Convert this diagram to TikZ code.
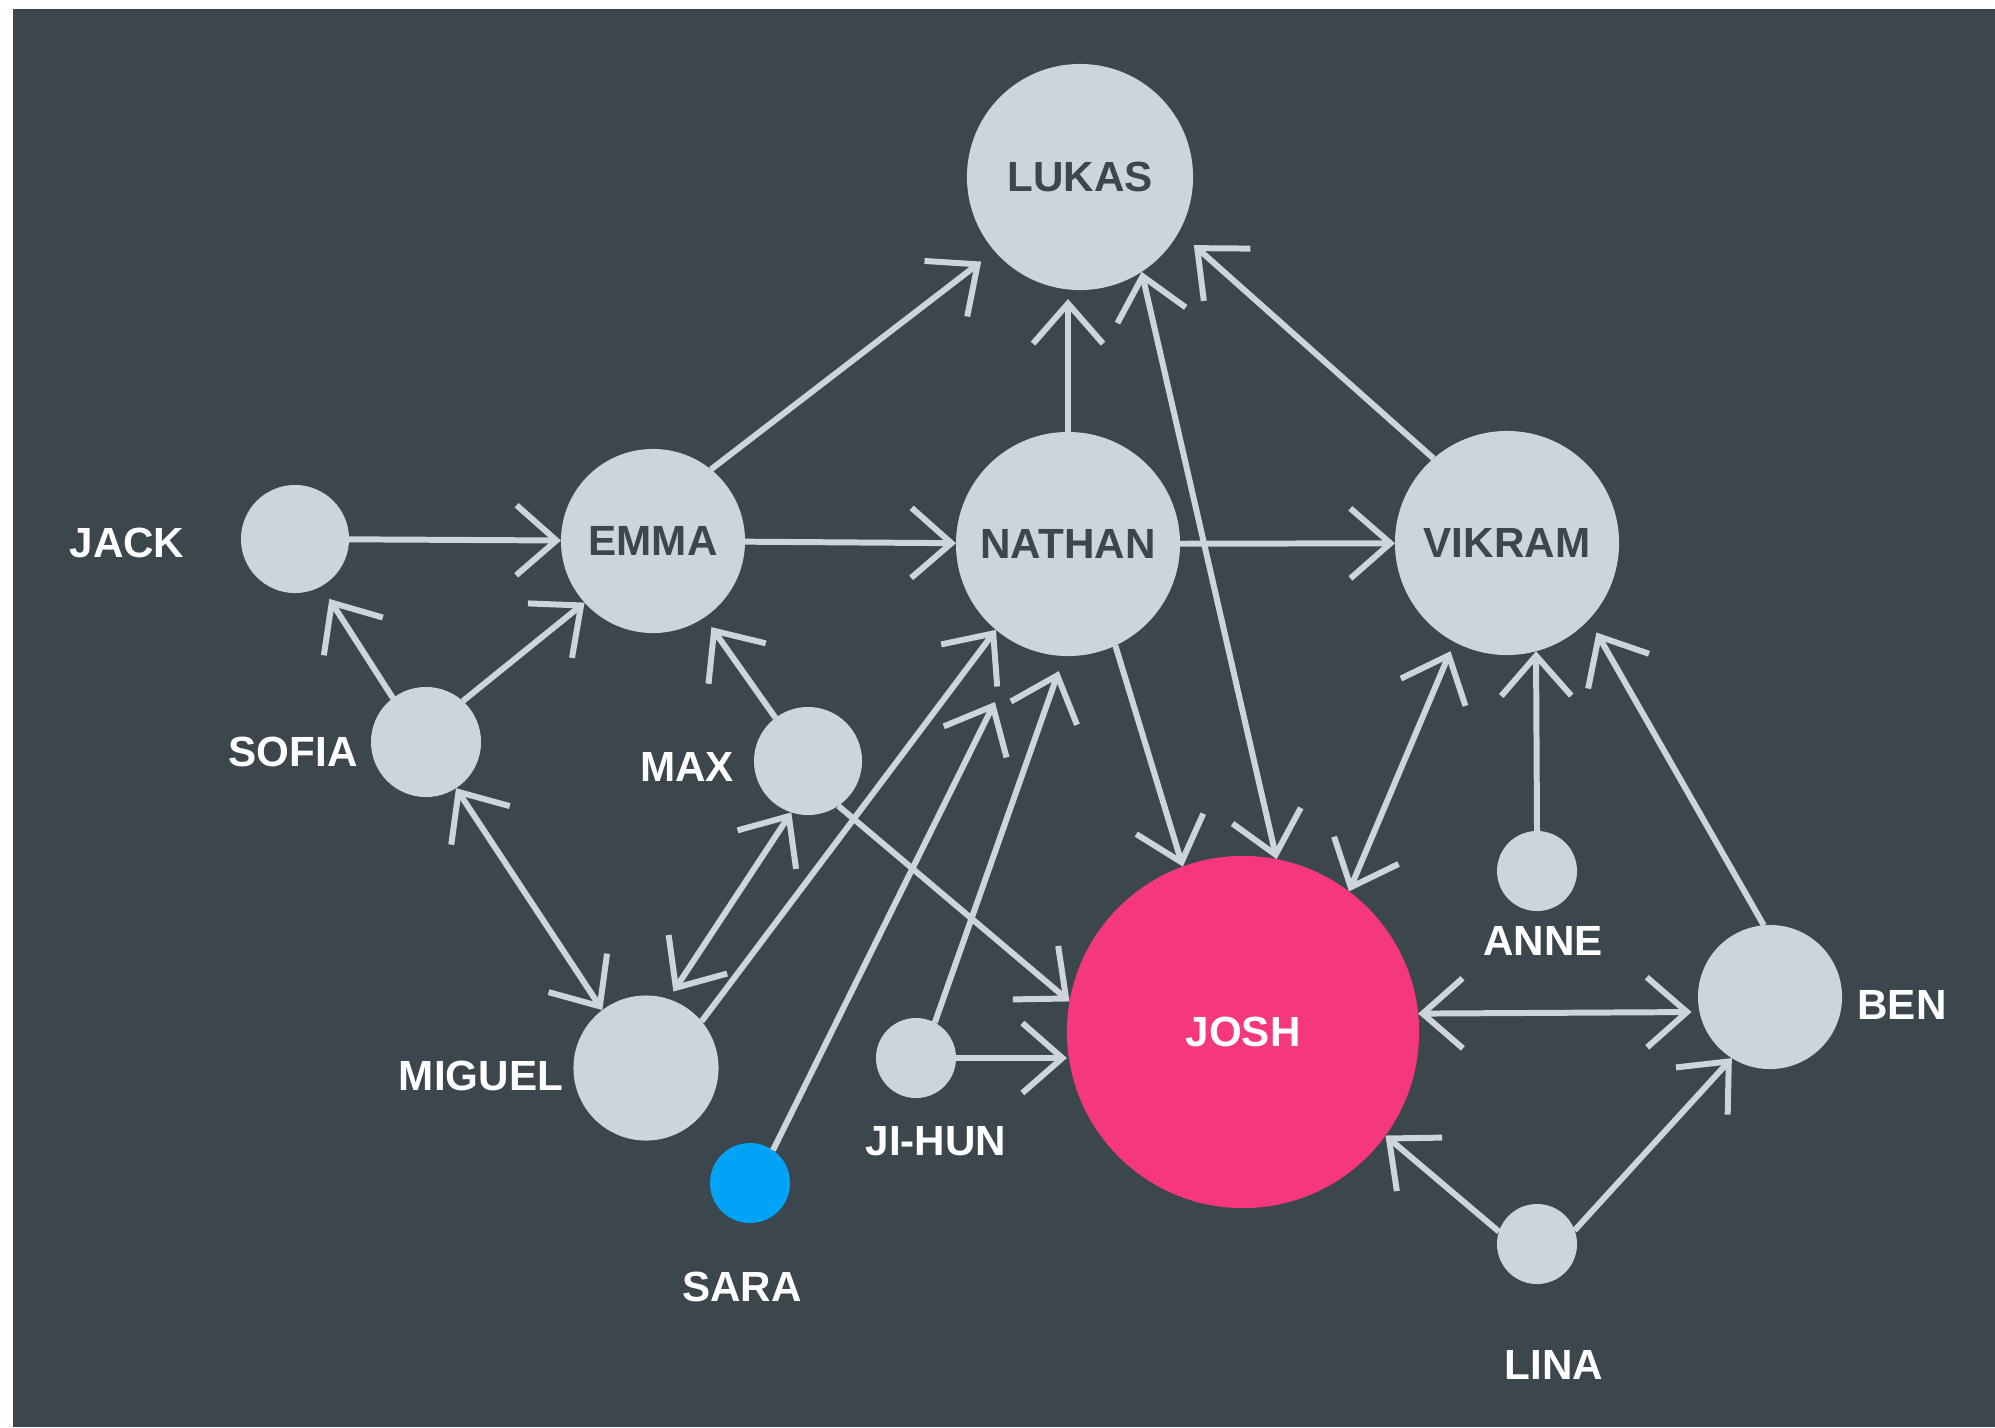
\documentclass[tikz,border=0pt]{standalone}
\usepackage{fontspec}
\setmainfont{Liberation Sans}
\usetikzlibrary{arrows.meta}
\definecolor{slate}{HTML}{3C464D}
\definecolor{cloud}{HTML}{CDD4DB}
\definecolor{rose}{HTML}{F5387C}
\definecolor{sky}{HTML}{00A3F5}
\tikzset{%
    person/.style={%
        circle,%
        fill=cloud,%
        inner sep=0pt,%
        outer sep=0pt,%
        text=slate,%
        font=\fontsize{12}{14}\selectfont\bfseries%
    },%
    tag/.style={%
        text=white,%
        font=\fontsize{12}{14}\selectfont\bfseries%
    },%
    link/.style={%
        draw=cloud,%
        line width=1.7pt,%
        >={Straight Barb[length=0.4cm,width=0.7cm]}%
    }%
}

\begin{document}
\begin{tikzpicture}[x=0.01cm,y=-0.01cm]
    \useasboundingbox (0,0) rectangle (1995,1427);
    \fill[white] (0,0) rectangle (1995,1427);
    \fill[slate] (13,9) rectangle (1995,1427);
    \node[person, minimum size=2.26cm] (lukas) at (1080,177) {LUKAS};
    \node[person, minimum size=1.84cm] (emma) at (653,541) {EMMA};
    \node[person, minimum size=2.24cm] (nathan) at (1068,544) {NATHAN};
    \node[person, minimum size=2.24cm] (vikram) at (1507,543) {VIKRAM};
    \node[person, minimum size=1.08cm] (jack) at (295,539) {};
    \node[person, minimum size=1.1cm] (sofia) at (426,742) {};
    \node[person, minimum size=1.08cm] (max) at (808,761) {};
    \node[person, minimum size=1.45cm] (miguel) at (646,1068) {};
    \node[person, fill=sky, minimum size=0.8cm] (sara) at (750,1183) {};
    \node[person, minimum size=0.8cm] (jihun) at (916,1058) {};
    \node[person, fill=rose, text=white, minimum size=3.52cm] (josh) at (1243,1032) {JOSH};
    \node[person, minimum size=0.8cm] (anne) at (1537,871) {};
    \node[person, minimum size=1.44cm] (ben) at (1770,997) {};
    \node[person, minimum size=0.8cm] (lina) at (1537,1244) {};
    \node[tag] (jacktag) at (127,543) {JACK};
    \node[tag] (sofiatag) at (293,752) {SOFIA};
    \node[tag] (maxtag) at (687,767) {MAX};
    \node[tag] (migueltag) at (481,1076) {MIGUEL};
    \node[tag] (saratag) at (742,1287) {SARA};
    \node[tag] (jihuntag) at (936,1141) {JI-HUN};
    \node[tag] (annetag) at (1543,941) {ANNE};
    \node[tag] (bentag) at (1902,1005) {BEN};
    \node[tag] (linatag) at (1554,1365) {LINA};
    \draw[link, ->] (jack) -- (emma);
    \draw[link, ->] (emma) -- (nathan);
    \draw[link, ->] (nathan) -- (vikram);
    \draw[link, ->, shorten >=0.17cm] (emma.51) -- (lukas.-139);
    \draw[link, ->, shorten >=0.09cm] (nathan.north) -- (nathan.north |- lukas.south);
    \draw[link, ->, shorten >=0.2cm] (vikram.131) -- (lukas.-29);
    \draw[link, <->] (josh.79) -- (lukas.-57);
    \draw[link, ->] (nathan.-65) -- (josh.110);
    \draw[link, <->, shorten >=0.1cm] (josh.53) -- (vikram.-118);
    \draw[link, ->] (anne.north) -- (vikram.-75);
    \draw[link, ->, shorten >=0.15cm] (ben.95) -- (vikram.-43);
    \draw[link, <->, shorten >=0.08cm] (josh.6) -- (ben.-168);
    \draw[link, ->] (lina.162) -- (josh.-36);
    \draw[link, ->] (lina.20) -- (ben.-122);
    \draw[link, ->, shorten >=0.15cm] (sofia.127) -- (jack.-61);
    \draw[link, ->] (sofia.48) -- (emma.-138);
    \draw[link, ->, shorten >=0.12cm] (max.127) -- (emma.-56);
    \draw[link, <->] (sofia.-57) -- (miguel.127);
    \draw[link, <->, shorten >=0.09cm] (max.-108) -- (miguel.72);
    \draw[link, ->] (miguel.40) -- (nathan.-130);
    \draw[link, ->, shorten >=0.62cm] (sara.55) -- (nathan.-114);
    \draw[link, ->, shorten >=0.16cm] (jihun.62) -- (nathan.-92);
    \draw[link, ->] (jihun.east) -- (jihun.east -| josh.west);
    \draw[link, ->] (max.-56) -- (josh.170);
\end{tikzpicture}
\end{document}
